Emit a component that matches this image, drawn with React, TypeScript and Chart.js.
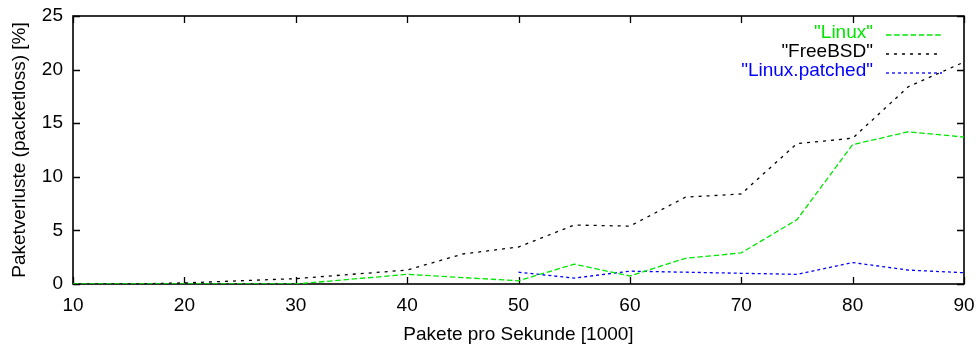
import React, { useEffect, useRef } from "react";
import { Chart, registerables } from "chart.js";

Chart.register(...registerables);

// ---- data ----
const xValues = [10, 15, 20, 25, 30, 35, 40, 45, 50, 55, 60, 65, 70, 75, 80, 85, 90];
const linuxValues = [0, 0, 0, 0, 0, 0.45, 0.9, 0.6, 0.3, 1.85, 0.75, 2.4, 2.9, 6.0, 13.0, 14.2, 13.7];
const freebsdValues = [0, 0, 0.1, 0.3, 0.5, 0.9, 1.3, 2.8, 3.45, 5.5, 5.4, 8.1, 8.4, 13.1, 13.6, 18.4, 20.7];
const patchedValues: (number | null)[] = [null, null, null, null, null, null, null, null, 1.1, 0.55, 1.2, 1.1, 1.0, 0.9, 2.0, 1.3, 1.05];
const seriesNames = ['"Linux"', '"FreeBSD"', '"Linux.patched"'];
const xTickValues = [10, 20, 30, 40, 50, 60, 70, 80, 90];
const yTickValues = [0, 5, 10, 15, 20, 25];
const xTitle = "Pakete pro Sekunde [1000]";
const yTitle = "Paketverluste (packetloss) [%]";

const seriesColors = ["#00e600", "#000000", "#0000ff"];
const seriesDashes = [
  [5.5, 2.7],
  [3, 5],
  [3, 3],
];

const FONT = '"Liberation Sans", Arial, sans-serif';
const FONT_SIZE = 19;

const toPoints = (vals: (number | null)[]) => xValues.map((x, i) => ({ x, y: vals[i] }));

const framePlugin = {
  id: "gnuframe",
  beforeDatasetsDraw(chart: any) {
    const { ctx, chartArea } = chart;
    const { left, right, top, bottom } = chartArea;
    const xs = chart.scales.x;
    const ys = chart.scales.y;
    ctx.save();
    ctx.strokeStyle = "#000";
    ctx.lineWidth = 1.6;
    ctx.setLineDash([]);
    ctx.strokeRect(left, top, right - left, bottom - top);
    ctx.lineWidth = 1.3;
    const tl = 7;
    ctx.beginPath();
    xTickValues.forEach((v) => {
      const px = Math.round(xs.getPixelForValue(v)) + 0.5;
      ctx.moveTo(px, bottom);
      ctx.lineTo(px, bottom - tl);
      ctx.moveTo(px, top);
      ctx.lineTo(px, top + tl);
    });
    yTickValues.forEach((v) => {
      const py = Math.round(ys.getPixelForValue(v)) + 0.5;
      ctx.moveTo(left, py);
      ctx.lineTo(left + tl, py);
      ctx.moveTo(right, py);
      ctx.lineTo(right - tl, py);
    });
    ctx.stroke();
    ctx.restore();
  },
  afterDatasetsDraw(chart: any) {
    const { ctx } = chart;
    ctx.save();
    ctx.font = `${FONT_SIZE}px ${FONT}`;
    ctx.textAlign = "right";
    ctx.textBaseline = "middle";
    chart.data.datasets.forEach((ds: any, i: number) => {
      const y = 33 + i * 19;
      const color = seriesColors[i];
      ctx.fillStyle = color;
      ctx.fillText(ds.label, 873, y);
      ctx.strokeStyle = color;
      ctx.lineWidth = 1.3;
      ctx.setLineDash(seriesDashes[i]);
      ctx.beginPath();
      ctx.moveTo(886, y + 2);
      ctx.lineTo(942, y + 2);
      ctx.stroke();
    });
    ctx.restore();
  },
};

export default function App() {
  const ref = useRef<HTMLCanvasElement>(null);
  useEffect(() => {
    const font = { family: FONT, size: FONT_SIZE };
    const mk = (i: number, vals: (number | null)[]) => ({
      label: seriesNames[i],
      data: toPoints(vals),
      borderColor: seriesColors[i],
      borderWidth: 1.3,
      borderDash: seriesDashes[i],
      pointRadius: 0,
      tension: 0,
      fill: false,
      spanGaps: false,
    });
    const chart = new Chart(ref.current as HTMLCanvasElement, {
      type: "line",
      data: {
        datasets: [mk(0, linuxValues), mk(1, freebsdValues), mk(2, patchedValues)],
      },
      options: {
        responsive: false,
        animation: false,
        devicePixelRatio: 1,
        layout: { padding: { left: 0, top: 16, right: 12, bottom: 0 } },
        plugins: { legend: { display: false }, tooltip: { enabled: false } },
        scales: {
          x: {
            type: "linear",
            min: 10,
            max: 90,
            afterBuildTicks: (s: any) => {
              s.ticks = xTickValues.map((v) => ({ value: v }));
            },
            afterFit: (s: any) => {
              s.height = 61;
              s.paddingLeft = 0;
              s.paddingRight = 0;
            },
            ticks: { font, color: "#000", padding: 10, maxRotation: 0, autoSkip: false },
            grid: { display: false, drawTicks: false },
            border: { display: false },
            title: { display: true, text: xTitle, font, color: "#000", padding: { top: 0, bottom: -1.5 } },
          },
          y: {
            type: "linear",
            min: 0,
            max: 25,
            afterBuildTicks: (s: any) => {
              s.ticks = yTickValues.map((v) => ({ value: v }));
            },
            afterFit: (s: any) => {
              s.width = 73;
              s.paddingTop = 0;
              s.paddingBottom = 0;
            },
            ticks: { font, color: "#000", padding: 10, autoSkip: false },
            grid: { display: false, drawTicks: false },
            border: { display: false },
            title: { display: true, text: yTitle, font, color: "#000", padding: { top: 8, bottom: 0 } },
          },
        },
      } as any,
      plugins: [framePlugin],
    });
    return () => chart.destroy();
  }, []);
  return (
    <div style={{ position: "fixed", left: 0, top: 0, width: 976, height: 345, background: "#fff" }}>
      <canvas ref={ref} width={976} height={345} style={{ display: "block" }} />
    </div>
  );
}
